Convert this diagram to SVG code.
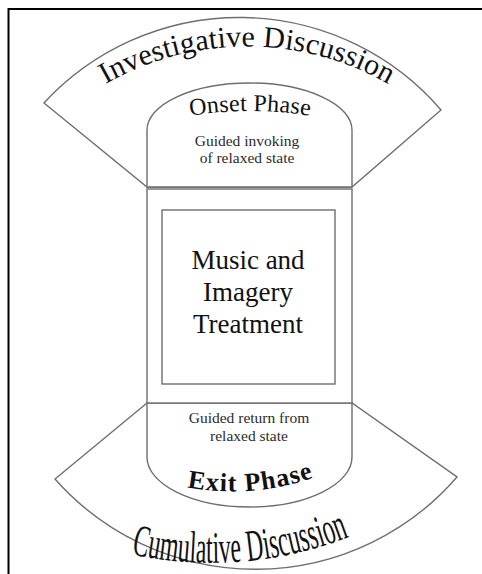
<svg xmlns="http://www.w3.org/2000/svg" xmlns:xlink="http://www.w3.org/1999/xlink" width="482" height="574" viewBox="0 0 482 574">
<style>
.shape{fill:#fff;stroke:#6e6e6e;stroke-width:1.4}
.serif{font-family:"Liberation Serif","Times New Roman",serif;fill:#111}
.small{font-size:15.5px;fill:#2b2b2b}
</style>
<defs>
<path id="pInv" d="M 85 97 A 285 285 0 0 1 409 97"/>
<path id="pOnset" d="M 178 118 Q 250 104 322 118"/>
<path id="pExit" d="M 176 485 Q 250 502 324 474"/>
<path id="pCum" d="M 118 551 Q 240 582 362 532"/>
</defs>
<rect width="482" height="574" fill="#fff"/>
<path d="M 8.5 574 V 9 H 482" fill="none" stroke="#000" stroke-width="2"/>

<g id="investigative-discussion">
<path class="shape" d="M 44 103 A 266 266 0 0 1 441 110 L 352 187 L 147 187 Z"/>
<text class="serif" font-size="30"><textPath xlink:href="#pInv" href="#pInv" startOffset="50%" text-anchor="middle" textLength="296">Investigative Discussion</textPath></text>
</g>

<g id="cumulative-discussion">
<path class="shape" d="M 147 403 L 55 479 A 267 267 0 0 0 457 477 L 352 403 Z"/>
<text class="serif" font-size="45"><textPath xlink:href="#pCum" href="#pCum" startOffset="50%" text-anchor="middle" textLength="222" lengthAdjust="spacingAndGlyphs">Cumulative Discussion</textPath></text>
</g>

<g id="onset-phase">
<path class="shape" d="M 147 187 V 130 A 102.5 47 0 0 1 352 130 V 187 Z"/>
<text class="serif" font-size="24"><textPath xlink:href="#pOnset" href="#pOnset" startOffset="50%" text-anchor="middle" textLength="120">Onset Phase</textPath></text>
<text class="serif small" x="247" y="146" text-anchor="middle">Guided invoking</text>
<text class="serif small" x="247" y="163" text-anchor="middle">of relaxed state</text>
</g>

<g id="exit-phase">
<path class="shape" d="M 147 403 V 457 A 102.5 50 0 0 0 352 457 V 403 Z"/>
<text class="serif small" x="249" y="423" text-anchor="middle" font-size="16.5">Guided return from</text>
<text class="serif small" x="249" y="441" text-anchor="middle" font-size="16.5">relaxed state</text>
<text class="serif" font-size="26" font-weight="bold"><textPath xlink:href="#pExit" href="#pExit" startOffset="50%" text-anchor="middle" textLength="128">Exit Phase</textPath></text>
</g>

<g id="treatment">
<rect class="shape" x="147" y="189" width="205" height="214"/>
<rect class="shape" x="162" y="210" width="173" height="174"/>
<text class="serif" font-size="27" x="248" y="269" text-anchor="middle">Music and</text>
<text class="serif" font-size="27" x="248" y="301" text-anchor="middle">Imagery</text>
<text class="serif" font-size="27" x="248" y="333" text-anchor="middle">Treatment</text>
</g>

<g id="connectors"></g>
</svg>
